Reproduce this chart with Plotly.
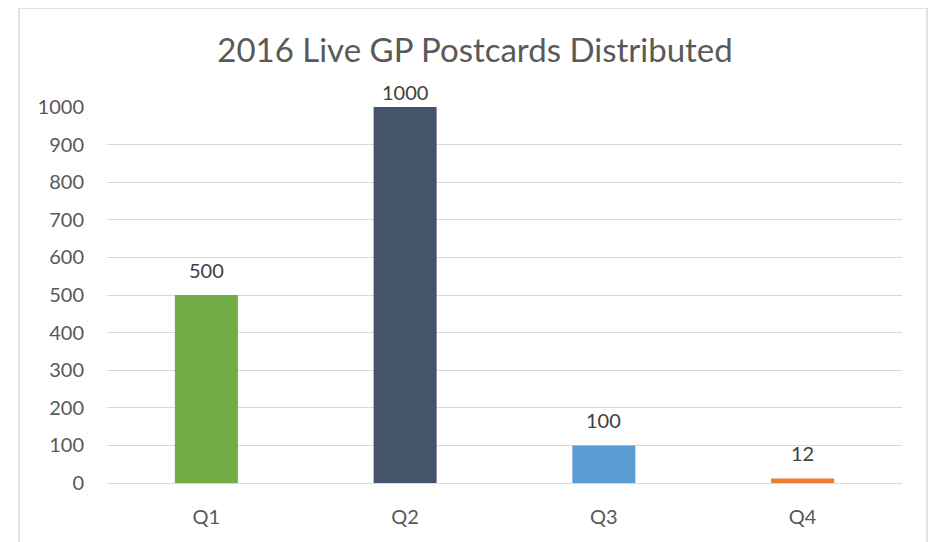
import plotly.graph_objects as go

categories = ["Q1", "Q2", "Q3", "Q4"]
values = [500, 1000, 100, 12]
colors = ["#70AD47", "#44546A", "#5B9BD5", "#ED7D31"]
y_ticks = list(range(0, 1001, 100))
title = "2016 Live GP Postcards Distributed"

FONT = "Lato"
OFF = 8  # page body margin
W, H = 936 - OFF, 542 - OFF
L, R, T, B = 107 - OFF, 34, 107 - OFF, 59
pw, ph = W - L - R, H - T - B
YMAX = 1000

fig = go.Figure(go.Bar(
    x=categories, y=values, marker=dict(color=colors, line=dict(width=0)),
    width=0.317, hoverinfo="x+y",
))

def px(x):
    return (x - OFF - L) / pw

def py(y):
    return (H + OFF - B - y) / ph

annotations = []
for c, v in zip(categories, values):
    top = T + OFF + (1 - v / YMAX) * ph
    label_y = max(top - 25, 92)
    annotations.append(dict(x=c, y=v, xref="x", yref="y", text=str(v), showarrow=False,
                            yshift=top - label_y, yanchor="middle",
                            font=dict(family=FONT, size=20, color="#404040")))

fig.update_layout(
    width=W, height=H,
    margin=dict(l=L, r=R, t=T, b=B),
    paper_bgcolor="white", plot_bgcolor="white",
    title=dict(text=title, xref="container", x=(475 - OFF) / W, xanchor="center",
               yref="container", y=1 - (50 - OFF) / H, yanchor="middle",
               font=dict(family=FONT, size=33, color="#595959")),
    showlegend=False,
    bargap=0.683,
    annotations=annotations,
    xaxis=dict(showgrid=False, showline=False, ticks="", ticklabelstandoff=20,
               tickfont=dict(family=FONT, size=20, color="#595959"), fixedrange=True),
    yaxis=dict(range=[0, YMAX], tickvals=y_ticks, showgrid=True, gridcolor="#D9D9D9",
               gridwidth=1.3, zeroline=True, zerolinecolor="#D9D9D9", zerolinewidth=1.3,
               showline=False, ticks="", ticklabelstandoff=22,
               tickfont=dict(family=FONT, size=20, color="#595959")),
    shapes=[dict(type="rect", xref="paper", yref="paper",
                 x0=px(19), x1=px(927), y0=py(560), y1=py(8),
                 line=dict(color="#D9D9D9", width=1.5), fillcolor="rgba(0,0,0,0)", layer="below")],
)

fig.write_html("out.html")
